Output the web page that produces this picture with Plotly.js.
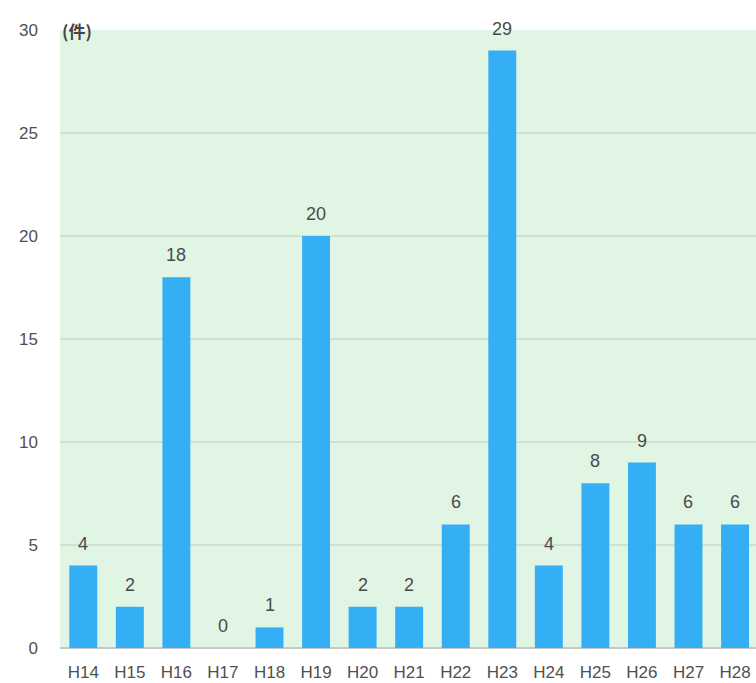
<!DOCTYPE html>
<html><head><meta charset="utf-8">
<script src="https://cdn.plot.ly/plotly-3.0.1.min.js"></script>
<style>body{margin:0;padding:0;background:#fff}</style>
</head><body>
<div id="chart" style="width:756px;height:683px"></div>
<script>
const categories = ["H14","H15","H16","H17","H18","H19","H20","H21","H22","H23","H24","H25","H26","H27","H28"];
const counts = [4,2,18,0,1,20,2,2,6,29,4,8,9,6,6];
const yTicks = [0,5,10,15,20,25,30];
const unitLabel = "(件)";

const fontFam = "Liberation Sans, Arial, sans-serif";
const valueLabels = categories.map((c, i) => ({
  x: c, y: counts[i], xref: "x", yref: "y",
  text: String(counts[i]), showarrow: false,
  xanchor: "center", yanchor: "bottom", yshift: 10,
  font: {family: fontFam, size: 18, color: "#4a4a4a"}
}));

Plotly.newPlot("chart", [{
  type: "bar",
  x: categories,
  y: counts,
  marker: {color: "#34aff5"},
  hoverinfo: "none"
}], {
  width: 756, height: 683,
  margin: {l: 60, r: 0, t: 30, b: 35},
  paper_bgcolor: "#ffffff",
  plot_bgcolor: "#e0f5e3",
  bargap: 0.4,
  showlegend: false,
  xaxis: {
    range: [-0.5, 14.45],
    tickfont: {family: fontFam, size: 17, color: "#505050"},
    showgrid: false, zeroline: false, showline: false, ticks: "",
    ticklabelstandoff: 12
  },
  yaxis: {
    range: [0, 30],
    tickvals: yTicks,
    ticktext: yTicks.map(String),
    tickfont: {family: fontFam, size: 17, color: "#505050"},
    showgrid: true, gridcolor: "#cfe2d2", gridwidth: 1.5,
    zeroline: true, zerolinecolor: "#c8c8c8", zerolinewidth: 2,
    ticklabelstandoff: 21
  },
  annotations: valueLabels.concat([{
    text: "<b>" + unitLabel + "</b>",
    xref: "paper", yref: "paper", x: 0, y: 1, xanchor: "left", yanchor: "middle",
    showarrow: false,
    font: {family: "Noto Sans CJK JP, sans-serif", size: 17, color: "#444"}
  }])
}, {displayModeBar: false, staticPlot: true});
</script>
</body></html>
